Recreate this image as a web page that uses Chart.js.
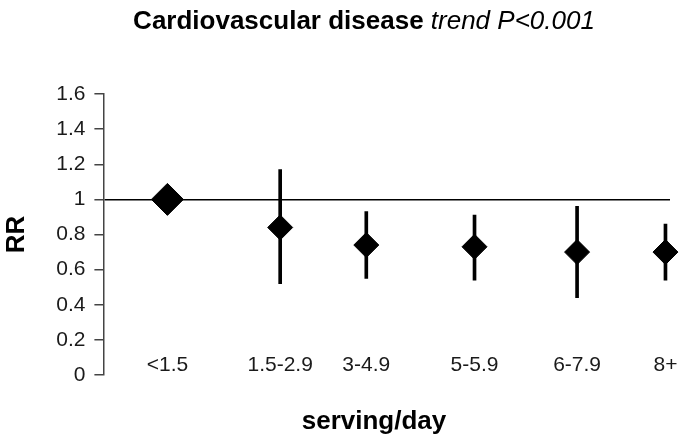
<!DOCTYPE html>
<html>
<head>
<meta charset="utf-8">
<script src="https://cdn.jsdelivr.net/npm/chart.js@4.4.1/dist/chart.umd.min.js"></script>
<style>
  html, body { margin: 0; padding: 0; background: #fff; }
</style>
</head>
<body>
<canvas id="rrChart" width="679" height="436"></canvas>
<script>
// servings/day groups and their position on the scatter's x axis
const categories = ['<1.5', '1.5-2.9', '3-4.9', '5-5.9', '6-7.9', '8+'];
const xValue = [1.13, 3.12, 4.64, 6.55, 8.36, 9.92];
// relative risk with 95% CI (reference group has none)
const rr = [1.00, 0.84, 0.74, 0.73, 0.70, 0.70];
const lower = [null, 0.52, 0.55, 0.54, 0.44, 0.54];
const upper = [null, 1.17, 0.93, 0.91, 0.96, 0.86];
const refLine = 1;

const FONT = "'Liberation Sans', Arial, sans-serif";

const headings = {
  id: 'headings',
  afterDraw(chart) {
    const ctx = chart.ctx;
    ctx.save();
    ctx.fillStyle = '#000';
    ctx.textBaseline = 'alphabetic';
    const bold = 'bold 26px ' + FONT;
    const ital = 'italic 26px ' + FONT;
    const main = 'Cardiovascular disease ';
    const sub = 'trend P<0.001';
    ctx.font = bold;
    const w1 = ctx.measureText(main).width;
    ctx.font = ital;
    const w2 = ctx.measureText(sub).width;
    const x0 = 364 - (w1 + w2) / 2;
    ctx.textAlign = 'left';
    ctx.font = bold;
    ctx.fillText(main, x0, 29);
    ctx.font = ital;
    ctx.fillText(sub, x0 + w1, 29);
    ctx.font = bold;
    ctx.textAlign = 'center';
    ctx.fillText('serving/day', 374, 429);
    ctx.restore();
  }
};

const ciData = xValue
  .map((x, i) => ({x: x, y: [lower[i], upper[i]]}))
  .filter(d => d.y[0] !== null);

const ctx = document.getElementById('rrChart').getContext('2d');
const rrChart = new Chart(ctx, {
  type: 'scatter',
  data: {
    datasets: [{
      label: 'RR',
      data: xValue.map((x, i) => ({x: x, y: rr[i]})),
      pointStyle: 'rectRot',
      pointRadius: c => c.dataIndex === 0 ? 16 : 12.5,
      backgroundColor: '#000',
      borderColor: '#000',
      borderWidth: 1,
      showLine: false,
      clip: false
    }, {
      type: 'bar',
      label: '95% CI',
      data: ciData,
      backgroundColor: '#000',
      barThickness: 3,
      grouped: false
    }]
  },
  options: {
    responsive: false,
    animation: false,
    layout: {
      autoPadding: false,
      padding: {top: 94, right: 9, bottom: 61, left: 0}
    },
    plugins: {
      legend: {display: false},
      tooltip: {enabled: false}
    },
    scales: {
      x: {
        type: 'linear',
        min: 0,
        max: 10,
        offset: false,
        position: {y: 0},
        afterBuildTicks: s => {
          s.ticks = xValue.map(v => ({value: v}));
        },
        afterFit: s => {
          // the last label runs to the canvas edge, as in the original
          s.paddingLeft = 0;
          s.paddingRight = 0;
        },
        grid: {display: false, drawTicks: false, offset: false},
        border: {display: false},
        ticks: {
          padding: -22,
          autoSkip: false,
          maxRotation: 0,
          color: '#1a1a1a',
          font: {family: FONT, size: 21},
          callback: (v, i) => categories[i]
        }
      },
      y: {
        min: 0,
        max: 1.6,
        ticks: {
          stepSize: 0.2,
          padding: 9,
          color: '#1a1a1a',
          font: {family: FONT, size: 21},
          callback: v => String(Number(v.toFixed(1)))
        },
        grid: {
          color: c => (c.tick && c.tick.value === refLine) ? '#000' : 'rgba(0,0,0,0)',
          lineWidth: 1.5,
          tickLength: 9,
          tickColor: '#444',
          tickWidth: 1.5
        },
        border: {color: '#444', width: 1.5},
        title: {
          display: true,
          text: 'RR',
          color: '#000',
          font: {family: FONT, size: 26, weight: 'bold'},
          padding: {top: 1, bottom: 15}
        }
      }
    }
  },
  plugins: [headings]
});
</script>
</body>
</html>
